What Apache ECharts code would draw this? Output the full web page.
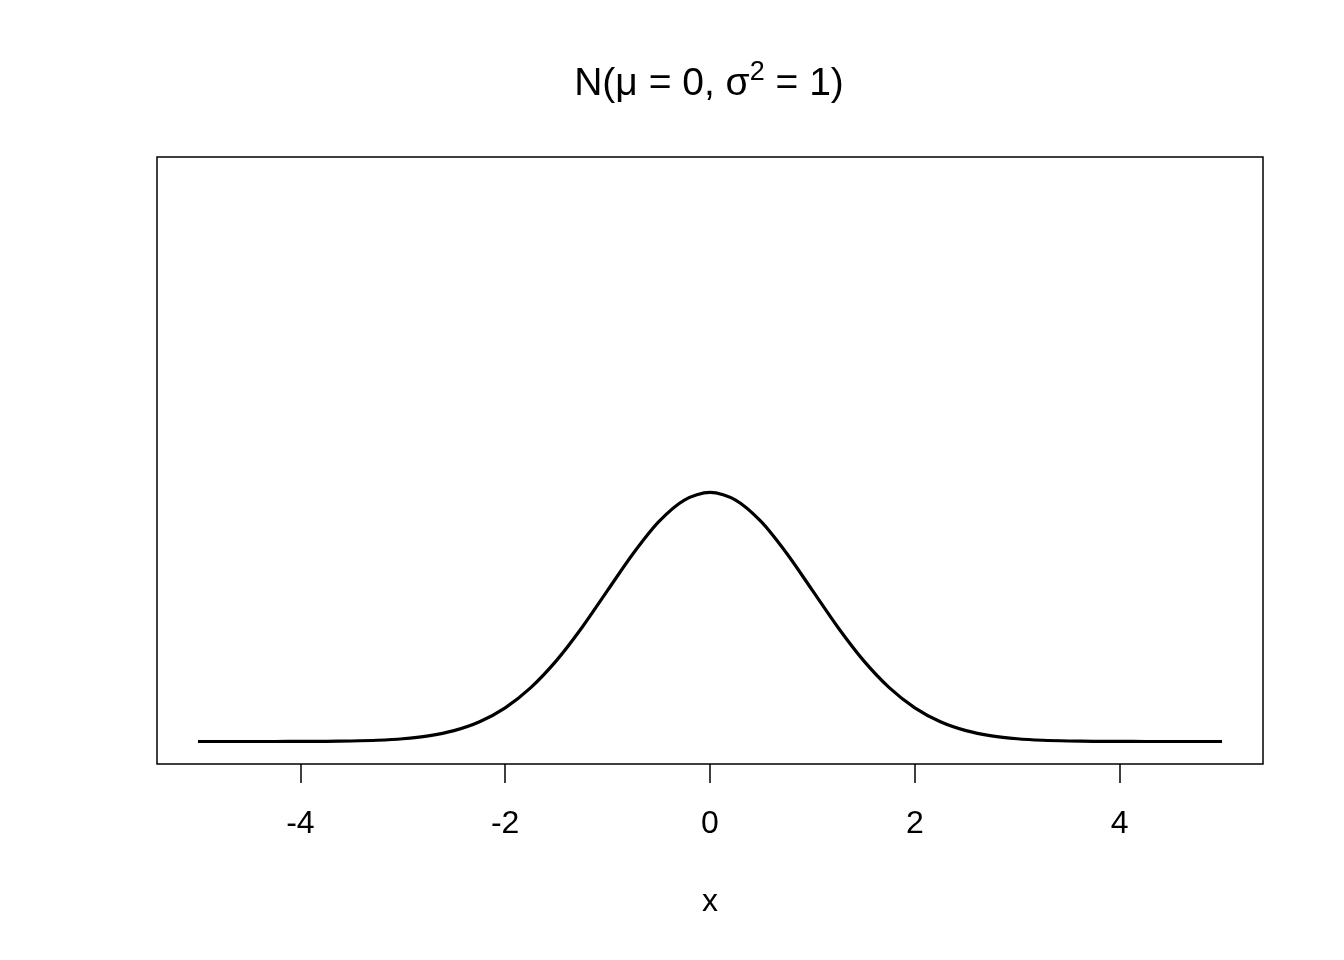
<!DOCTYPE html>
<html>
<head>
<meta charset="utf-8">
<script src="https://cdn.jsdelivr.net/npm/echarts@6/dist/echarts.min.js"></script>
<style>html,body{margin:0;padding:0;background:#fff}#c{width:1344px;height:960px}</style>
</head>
<body>
<div id="c"></div>
<script>
var xValues = [-5,-4.75,-4.5,-4.25,-4,-3.75,-3.5,-3.25,-3,-2.75,-2.5,-2.25,-2,-1.75,-1.5,-1.25,-1,-0.75,-0.5,-0.25,0,0.25,0.5,0.75,1,1.25,1.5,1.75,2,2.25,2.5,2.75,3,3.25,3.5,3.75,4,4.25,4.5,4.75,5];
var density = [0.0000015,0.0000051,0.000016,0.000048,0.00013,0.00035,0.00087,0.0020,0.0044,0.0091,0.0175,0.0317,0.0540,0.0863,0.1295,0.1826,0.2420,0.3011,0.3521,0.3867,0.3989,0.3867,0.3521,0.3011,0.2420,0.1826,0.1295,0.0863,0.0540,0.0317,0.0175,0.0091,0.0044,0.0020,0.00087,0.00035,0.00013,0.000048,0.000016,0.0000051,0.0000015];
var xTicks = [-4,-2,0,2,4];
var font = 'Liberation Sans, Arial, Helvetica, sans-serif';
var chart = echarts.init(document.getElementById('c'));
chart.setOption({
  animation: false,
  backgroundColor: '#fff',
  title: {
    text: '{a|N(μ = 0, σ}{s|2}{a| = 1)}',
    left: 704, top: 54, textAlign: 'center',
    textStyle: {
      fontWeight: 'normal',
      rich: {
        a: {fontSize: 39, fontFamily: font, fontWeight: 'normal', color: '#000', verticalAlign: 'bottom', lineHeight: 45},
        s: {fontSize: 27, fontFamily: font, fontWeight: 'normal', color: '#000', verticalAlign: 'top', lineHeight: 45, padding: [0,0,14,0]}
      }
    }
  },
  grid: {left: 157, right: 81, top: 157, bottom: 196, show: true, borderColor: '#000', borderWidth: 1.5, backgroundColor: 'transparent'},
  xAxis: {
    type: 'value', min: -5.4, max: 5.4,
    splitLine: {show: false},
    axisLine: {show: false, onZero: false},
    axisTick: {show: true, length: 19, inside: false, customValues: xTicks, lineStyle: {color: '#000', width: 1.5}},
    axisLabel: {customValues: xTicks, margin: 44, fontSize: 32, fontFamily: font, color: '#000'},
    name: 'x', nameLocation: 'middle', nameGap: 122,
    nameTextStyle: {fontSize: 32, fontFamily: font, color: '#000'}
  },
  yAxis: {
    type: 'value', min: -0.036, max: 0.936, show: false, splitLine: {show: false}
  },
  series: [{
    type: 'line',
    data: xValues.map(function(x, i){ return [x, density[i]]; }),
    smooth: 0.3,
    showSymbol: false,
    lineStyle: {color: '#000', width: 3.2}
  }]
});
</script>
</body>
</html>
